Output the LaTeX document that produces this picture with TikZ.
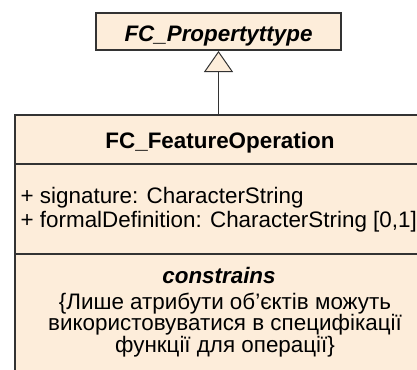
\documentclass[tikz,border=0pt]{standalone}
\usepackage{fontspec}
\setmainfont{Liberation Sans}
\usepackage{tikz}
\usetikzlibrary{positioning,arrows.meta}
\definecolor{umlfill}{RGB}{253,237,218}
\definecolor{umldark}{RGB}{51,51,51}

\begin{document}
\begin{tikzpicture}[x=1pt, y=-1pt,
      every node/.style={font=\fontsize{22.4}{24}\selectfont, inner sep=0pt},
      clsbox/.style={draw=umldark, fill=umlfill, line width=2pt, inner sep=0pt},
      clsname/.style={font=\fontsize{22.4}{24}\selectfont\bfseries},
      absname/.style={font=\fontsize{22.4}{24}\selectfont\bfseries\itshape},
      sepline/.style={draw=umldark, line width=2pt},
      genline/.style={draw=umldark, line width=1.3pt, -{Triangle[length=21pt, width=29pt, fill=umlfill, line width=1pt]}}
    ]
      \useasboundingbox (0,0) rectangle (417,369);
      \clip (0,0) rectangle (417,369);

      % abstract parent class
      \node[clsbox, absname, anchor=north west, minimum width=245pt, minimum height=37pt,
            text height=19.8pt, text depth=0pt] (prop) at (95,12) {FC\_Propertyttype};

      % operation class, cut at the right and bottom
      \node[clsbox, anchor=north west, minimum width=414pt, minimum height=300pt] (op) at (14,114) {};
      \node[clsname, anchor=base] (opname) at (220,148) {FC\_FeatureOperation};
      \draw[sepline] (op.west |- 0,164) -- (op.east |- 0,164);
      \draw[sepline] (op.west |- 0,254) -- (op.east |- 0,254);

      % attributes (base = last line)
      \node[anchor=base west, align=left] (attrs) at (20.5,227)
        {+ signature: CharacterString\\+ formalDefinition: CharacterString [0,1]};

      % constraints
      \node[absname, anchor=base] (cname) at (219,283) {constrains};
      \node[anchor=base, align=center, font=\fontsize{22.4}{21.5}\selectfont] (ctext) at (225,352)
        {\{Лише атрибути об’єктів можуть\\використовуватися в специфікації\\функції для операції\}};

      \draw[genline] (op.north -| prop.south) -- (prop.south);
    \end{tikzpicture}
\end{document}
